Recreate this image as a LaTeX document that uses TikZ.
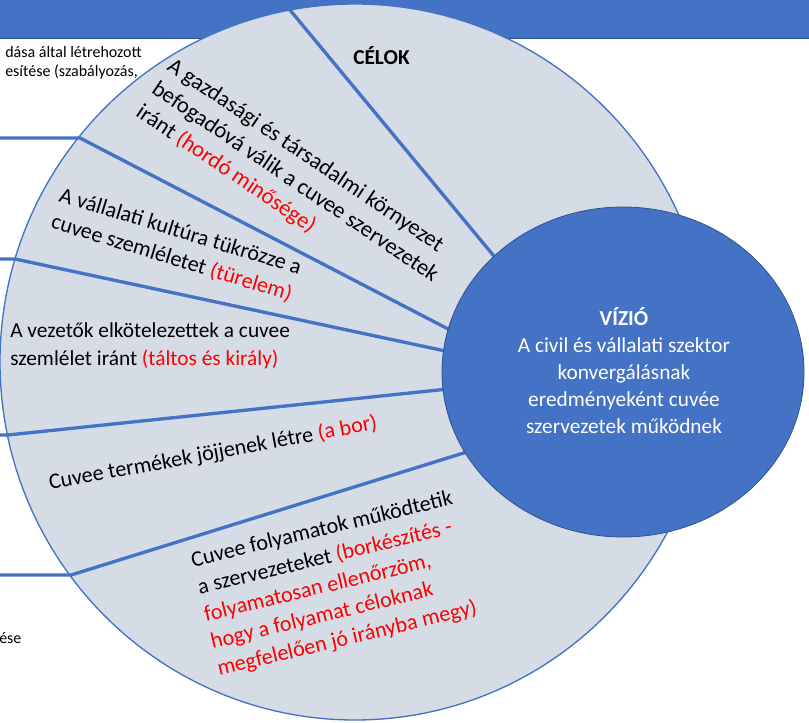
\documentclass[tikz,border=0pt]{standalone}
\usepackage{fontspec}
\setmainfont{Carlito}
\definecolor{visionblue}{HTML}{4472C4}
\definecolor{visionedge}{HTML}{2F528F}
\definecolor{goalgray}{HTML}{D6DCE5}
\definecolor{notered}{HTML}{FF0000}
\newcommand{\redtext}[1]{\textcolor{notered}{#1}}
\begin{document}
\begin{tikzpicture}[x=0.75pt,y=0.75pt,yscale=-1,xscale=1,
	goal/.style={anchor=base west,inner sep=0pt,align=left,font=\fontsize{16}{21}\selectfont},
	tiltgoal/.style={goal,font=\fontsize{16.6}{21}\selectfont},
	side/.style={anchor=base west,inner sep=0pt,align=left,font=\fontsize{12}{14.25}\selectfont},
	divider/.style={draw=visionblue,line width=2.5pt}]
	\useasboundingbox (0,0) rectangle (809,723);
	% header bar and cut-off side notes
	\filldraw [fill=visionblue,draw=visionedge,line width=0.5pt] (-2,-2) rectangle (811,38);
	\draw (5,77) node [side] (side1) {dása által létrehozott\\esítése (szabályozás,};
	\draw (-1,643) node [side] (side2) {ése};
	% goals disc
	\draw [draw=visionblue,fill=goalgray,line width=1pt] (355,362) ellipse [x radius=355,y radius=358];
	\coordinate (k1) at (290,10);   \coordinate (v1) at (498,261);
	\coordinate (h2) at (0,138);    \coordinate (k2) at (80,138);   \coordinate (v2) at (452,331);
	\coordinate (h3) at (0,259);    \coordinate (k3) at (15,259);   \coordinate (v3) at (450,352);
	\coordinate (h4) at (0,435);    \coordinate (k4) at (8,435);    \coordinate (v4) at (448,389);
	\coordinate (h5) at (0,575);    \coordinate (k5) at (71,575);   \coordinate (v5) at (470,451);
	\draw [divider] (k1) -- (v1);
	\draw [divider] (h2) -- (k2) -- (v2);
	\draw [divider] (h3) -- (k3) -- (v3);
	\draw [divider] (h4) -- (k4) -- (v4);
	\draw [divider] (h5) -- (k5) -- (v5);
	% vision (base = last line)
	\draw [draw=visionedge,fill=visionblue,line width=0.6pt] (623,372) ellipse [x radius=181,y radius=165];
	\draw (624,433) node [goal,anchor=base,align=center,text=white,font=\fontsize{16}{20.25}\selectfont] (vision) {\textbf{VÍZIÓ}\\A civil és vállalati szektor\\konvergálásnak\\eredményeként cuvée\\szervezetek működnek};
	% goals (base = last line)
	\draw (353,65) node [goal] (celok) {\textbf{CÉLOK}};
	\draw (134.7,115.4) node [tiltgoal,rotate=-34,font=\fontsize{17}{21}\selectfont] (goal1) {A gazdasági és társadalmi környezet\\befogadóvá válik a cuvee szervezetek\\iránt \redtext{(hordó minősége)}};
	\draw (49.8,227.8) node [tiltgoal,rotate=-17] (goal2) {A vállalati kultúra tükrözze a\\cuvee szemléletet \redtext{(türelem)}};
	\draw (10,365) node [goal] (goal3) {A vezetők elkötelezettek a cuvee\\szemlélet iránt \redtext{(táltos és király)}};
	\draw (50,490) node [tiltgoal,rotate=10.5] (goal4) {Cuvee termékek jöjjenek létre \redtext{(a bor)}};
	\draw (219,676) node [tiltgoal,rotate=13.5] (goal5) {Cuvee folyamatok működtetik\\a szervezeteket \redtext{(borkészítés -}\\\redtext{folyamatosan ellenőrzöm,}\\\redtext{hogy a folyamat céloknak}\\\redtext{megfelelően jó irányba megy)}};
\end{tikzpicture}
\end{document}
